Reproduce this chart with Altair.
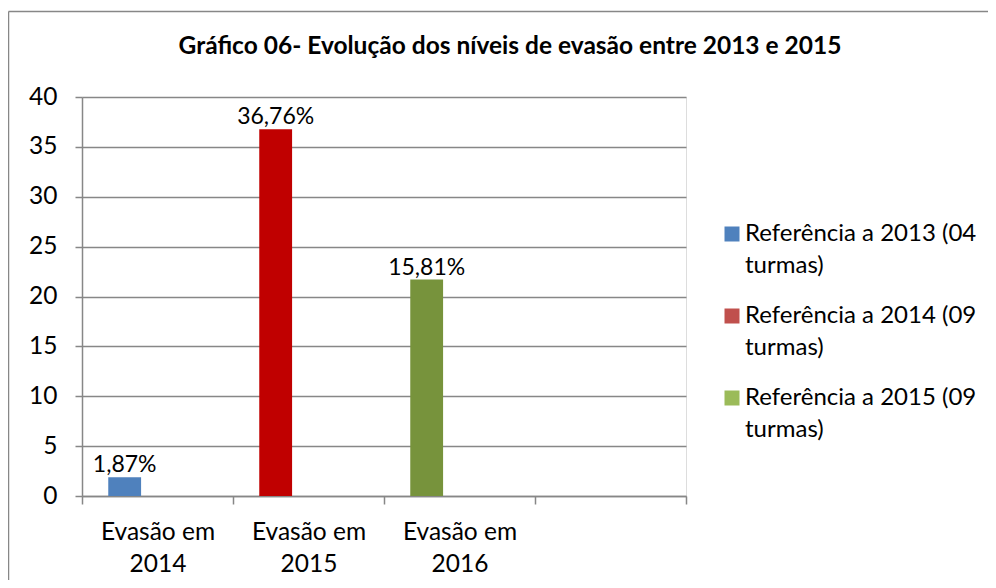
import altair as alt
import pandas as pd

# ---- data ----
categories = ["Evasão em|2014", "Evasão em|2015", "Evasão em|2016", " "]
series = ["Referência a 2013 (04|turmas)", "Referência a 2014 (09|turmas)", "Referência a 2015 (09|turmas)"]
values = [1.87, 36.76, 21.7]
value_labels = ["1,87%", "36,76%", "15,81%"]
bar_colors = ["#4F81BD", "#C00000", "#77933C"]
legend_colors = ["#4F81BD", "#C0504D", "#9BBB59"]
title_text = "Gráfico 06- Evolução dos níveis de evasão entre 2013 e 2015"

FONT = "Lato"
GRID = "#878787"
W, H = 604, 399

bars_df = pd.DataFrame({
    "categoria": categories[:3],
    "serie": series,
    "valor": values,
    "rotulo": value_labels,
    "cor": bar_colors,
    "slot": ["s1", "s1", "s1"],
})

x_enc = alt.X(
    "categoria:N",
    scale=alt.Scale(domain=categories, paddingInner=0, paddingOuter=0),
    sort=categories,
    axis=alt.Axis(
        title=None, labelAngle=0, tickBand="extent", tickSize=8, tickWidth=1.5,
        tickColor=GRID, domainColor=GRID, domainWidth=1.5,
        labelExpr="isValid(datum.value) ? split(datum.value, '|') : ''",
        labelFont=FONT, labelFontSize=24.5,
        labelColor="black", labelLineHeight=32, labelPadding=16, grid=False,
    ),
)
xoff_enc = alt.XOffset(
    "slot:N",
    scale=alt.Scale(domain=["s1", "s2", "s3"], paddingInner=0, paddingOuter=0.8),
)
y_scale = alt.Scale(domain=[0, 40], nice=False, zero=True)
y_axis = alt.Axis(
    title=None, values=list(range(0, 41, 5)), grid=True, gridColor=GRID, gridWidth=1.5,
    domainColor=GRID, domainWidth=1.5, tickColor=GRID, tickWidth=1.5, tickSize=7,
    labelFont=FONT, labelFontSize=24.5, labelColor="black", labelPadding=18,
)

bars = alt.Chart(bars_df).mark_bar().encode(
    x=x_enc,
    xOffset=xoff_enc,
    y=alt.Y("valor:Q", scale=y_scale, axis=y_axis),
    fill=alt.Fill("cor:N", scale=None),
)

texts = alt.Chart(bars_df).mark_text(
    baseline="alphabetic", dy=-5, font=FONT, fontSize=23, color="black"
).encode(
    x=x_enc,
    xOffset=xoff_enc,
    y=alt.Y("valor:Q", scale=y_scale),
    text="rotulo:N",
)

legend_layer = alt.Chart(bars_df).mark_bar(opacity=0).encode(
    x=x_enc,
    xOffset=xoff_enc,
    y=alt.Y("valor:Q", scale=y_scale),
    color=alt.Color(
        "serie:N",
        scale=alt.Scale(domain=series, range=legend_colors),
        legend=alt.Legend(
            title=None, orient="none", legendX=638, legendY=125,
            symbolType="square", symbolSize=225, symbolStrokeWidth=0, symbolOpacity=1,
            labelExpr="split(datum.label, '|')", labelFont=FONT, labelFontSize=24,
            labelColor="black", labelOffset=1, labelLimit=400, labelBaseline="middle",
            rowPadding=26, padding=0,
        ),
    ),
)

frame_df = pd.DataFrame({"k": [0]})
border_left = alt.Chart(frame_df).mark_rule(color=GRID, strokeWidth=1.5).encode(
    x=alt.value(-73.5), y=alt.value(-85.5), y2=alt.value(700)
)
border_top = alt.Chart(frame_df).mark_rule(color=GRID, strokeWidth=1.5).encode(
    x=alt.value(-73.5), x2=alt.value(3000), y=alt.value(-85.5)
)

chart = alt.layer(border_left, border_top, bars, texts, legend_layer).properties(
    width=W,
    height=H,
    title=alt.TitleParams(
        title_text, font=FONT, fontSize=24.5, fontWeight="bold", color="black",
        anchor="middle", frame="group", dx=126, offset=-68, baseline="alphabetic",
    ),
    autosize=alt.AutoSizeParams(type="none"),
    padding={"left": 74, "top": 89, "right": 302, "bottom": 84},
).configure_view(stroke=None).configure(
    background="white", style={"guide-label": {"lineHeight": 32}}
)

chart.save("out.html", embed_options={"renderer": "svg", "actions": False})
